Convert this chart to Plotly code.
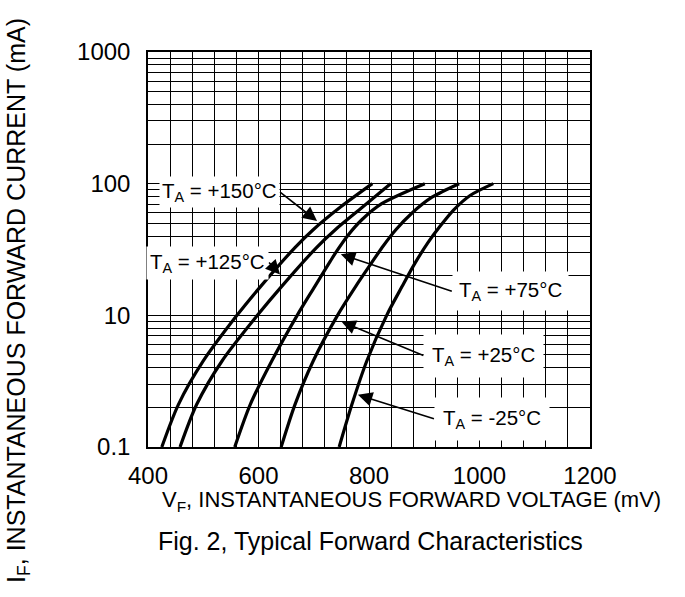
import math
import plotly.graph_objects as go

# ---- data ----
vf_150 = [425, 455, 500, 561, 604, 666, 699, 749, 806]
if_150 = [1.0, 2.1, 4.5, 10, 16.6, 32.7, 44.7, 66.7, 100]

vf_125 = [458, 488, 534, 598, 642, 705, 739, 789, 839]
if_125 = [1.0, 2.1, 4.5, 10, 16.6, 32.7, 44.7, 66.7, 100]

vf_75 = [557, 585, 624, 670, 702, 730, 741, 761, 787, 823, 901]
if_75 = [1.0, 2.1, 4.5, 10, 16.6, 25.8, 30.5, 40.1, 53.2, 70.5, 100]

vf_25 = [641, 666, 699, 743, 776, 804, 826, 849, 877, 914, 963]
if_25 = [1.0, 2.1, 4.5, 10, 16.6, 24.8, 33.8, 44.9, 59.4, 78.9, 100]

vf_m25 = [746, 769, 796, 832, 860, 883, 907, 928.5, 953, 983, 1025]
if_m25 = [1.0, 2.1, 4.5, 10, 16.6, 24.8, 35.8, 47.4, 63, 81.3, 100]

label_text = ["T<sub>A</sub> = +150°C", "T<sub>A</sub> = +125°C", "T<sub>A</sub> = +75°C",
              "T<sub>A</sub> = +25°C", "T<sub>A</sub> = -25°C"]
label_tip_vf = [706, 639, 749, 750, 780]
label_tip_if = [52, 20.4, 29.1, 8.97, 2.49]

x_tick_vals = [400, 600, 800, 1000, 1200]
x_tick_text = ["400", "600", "800", "1000", "1200"]
y_tick_vals = [1, 10, 100, 1000]
y_tick_text = ["0.1", "10", "100", "1000"]

FONT = "Liberation Sans, Arial, sans-serif"

fig = go.Figure()
for xs, ys, name in [(vf_150, if_150, "+150°C"), (vf_125, if_125, "+125°C"),
                     (vf_75, if_75, "+75°C"), (vf_25, if_25, "+25°C"),
                     (vf_m25, if_m25, "-25°C")]:
    fig.add_trace(go.Scatter(x=xs, y=ys, mode="lines", name=name,
                             line=dict(color="black", width=3.2, shape="spline", smoothing=0.8),
                             showlegend=False, hoverinfo="skip"))

# label placement: (ax, ay, xanchor, yanchor, borderpad)
label_style = [(-37, -29, "right", "middle", 2),
               (-11, -12, "right", "middle", 3),
               (111, 37, "left", "middle", 6),
               (82, 34, "left", "middle", 8),
               (76, 24, "left", "middle", 8)]
for txt, tx, ty, (ax, ay, xa, ya, pad) in zip(label_text, label_tip_vf, label_tip_if, label_style):
    fig.add_annotation(x=tx, y=math.log10(ty), xref="x", yref="y", text=txt, showarrow=True,
                       ax=ax, ay=ay, xanchor=xa, yanchor=ya,
                       arrowhead=2, arrowsize=1.8, arrowwidth=1.6, arrowcolor="black",
                       bgcolor="white", borderpad=pad,
                       font=dict(family=FONT, size=20.5, color="black"))

minor_y = [m * d for d in (1, 10, 100) for m in range(2, 10)]

fig.update_xaxes(type="linear", range=[400, 1200],
                 tickmode="array", tickvals=x_tick_vals, ticktext=x_tick_text,
                 ticks="", ticklabelstandoff=6,
                 showgrid=True, gridcolor="black", gridwidth=1,
                 minor=dict(tickmode="linear", tick0=400, dtick=40, showgrid=True,
                            gridcolor="black", gridwidth=1, ticks=""),
                 showline=True, linecolor="black", linewidth=1.5, mirror=True,
                 zeroline=False,
                 tickfont=dict(family=FONT, size=24, color="black"))
fig.update_yaxes(type="log", range=[0, 3],
                 tickmode="array", tickvals=y_tick_vals, ticktext=y_tick_text,
                 ticks="", ticklabelstandoff=11,
                 showgrid=True, gridcolor="black", gridwidth=1,
                 minor=dict(tickmode="array", tickvals=minor_y, showgrid=True,
                            gridcolor="black", gridwidth=1, ticks=""),
                 showline=True, linecolor="black", linewidth=1.5, mirror=True,
                 zeroline=False,
                 tickfont=dict(family=FONT, size=24, color="black"))

# axis titles and caption
fig.add_annotation(xref="paper", yref="paper", x=0.597, y=-0.137, showarrow=False,
                   text="V<sub>F</sub>, INSTANTANEOUS FORWARD VOLTAGE (mV)",
                   xanchor="center", yanchor="middle",
                   font=dict(family=FONT, size=22, color="black"))
fig.add_annotation(xref="paper", yref="paper", x=0.5045, y=-0.238, showarrow=False,
                   text="Fig. 2, Typical Forward Characteristics",
                   xanchor="center", yanchor="middle",
                   font=dict(family=FONT, size=25, color="black"))
fig.add_annotation(xref="paper", yref="paper", x=-0.294, y=0.37, showarrow=False,
                   text="I<sub>F</sub>, INSTANTANEOUS FORWARD CURRENT (mA)",
                   textangle=-90, xanchor="center", yanchor="middle",
                   font=dict(family=FONT, size=25, color="black"))

fig.update_layout(width=685, height=597,
                  margin=dict(l=148, r=95, t=52, b=150),
                  plot_bgcolor="white", paper_bgcolor="white",
                  font=dict(family=FONT, color="black"))

fig.write_html("out.html", config={"displayModeBar": False},
               post_script="document.body.style.margin='0';")
